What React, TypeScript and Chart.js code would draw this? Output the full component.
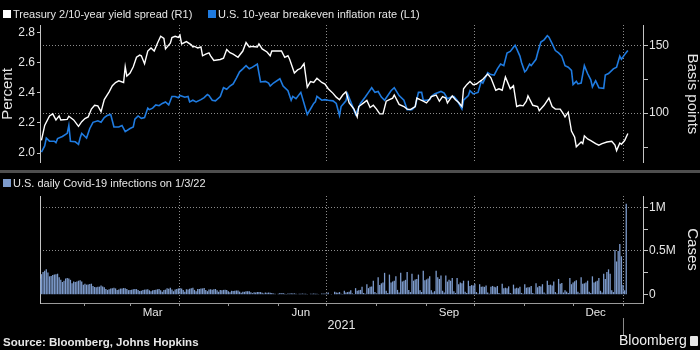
import React, { useEffect, useRef } from 'react';
import { Chart, registerables } from 'chart.js';

Chart.register(...registerables);

const FONT = "'Liberation Sans', Arial, sans-serif";
const TXT = '#e6e6e6';
const AXIS = '#c4c4c4';
const GRID = '#8c8c8c';
const BLUE = '#1f7be0';
const BAR = '#7d9bcc';

// x values are days since 2021-01-01
const spreadDays = [4,6,9,11,13,15,16,20,21,24,27,29,31,33,35,37,39,41,43,46,48,50,52,55,56,57,59,61,63,65,66,68,70,72,74,76,78,80,81,84,85,87,89,90,91,94,97,98,99,101,103,104,106,108,109,111,115,117,119,121,123,126,129,131,133,135,138,139,141,144,146,147,150,153,155,157,158,161,163,165,167,169,171,173,175,178,180,182,185,187,189,191,193,195,198,200,201,204,206,208,210,212,214,216,218,220,222,223,226,229,231,233,236,237,239,241,243,245,246,249,251,253,255,256,259,261,263,265,266,268,270,272,274,276,278,281,283,286,288,290,292,293,295,297,299,301,303,305,306,309,312,313,316,319,321,323,326,328,329,331,333,335,336,339,340,341,343,345,348,350,352,355,358,360,361,363,364,366,368];
const spreadBp = [80,91,98,99.5,95,98,95,95.4,97.7,95,90.3,93.7,96,97.2,103,105.8,105.4,101.1,110,115.7,120.3,122.6,123.8,122.6,134.2,127.3,129.6,134.2,141.2,142.8,142.3,136.5,145.8,148.1,145.8,151.6,156.7,155.1,147.4,151.6,155.8,156.7,155.8,157.4,151.1,152.8,150.4,148.8,149.2,148.1,148.8,142.3,143.5,144.4,142.3,138.9,139.6,140.5,146.9,144.6,143.5,141.2,145.8,152.1,148.8,149.2,148.8,151.1,147.4,145.1,142.3,145.8,145.8,145.8,141.2,142.3,140,129.6,131.9,133.1,136.5,119.2,123.3,122.6,125.7,122.6,121.5,118,114.6,111.8,109.9,113.4,115.7,107.6,103,97.2,104.9,107.6,109.4,104.2,105.8,103,99.5,99.5,108.8,109.9,111.1,113.4,106.5,104.9,103,102.6,104.9,111.1,109.9,108.8,107.6,110.3,112.2,113.4,108.8,112.2,111.1,107.6,112.7,109.9,107.8,104.9,118,121,123.3,121,121.5,123.3,125,128.9,126.1,116.9,118,116.9,126.6,123.8,118,120.3,104.9,105.8,105.4,108.8,112.7,105.8,104.9,101.8,105.8,111.1,104.9,103,103,99.5,97.2,100.7,86.8,82.2,75.2,78.7,77.5,83.3,81,79.8,77.5,76.4,77.5,78.7,79.3,76.4,72.4,78,77.1,79.8,85];

const breakevenDays = [4,6,7,9,12,13,14,17,20,21,22,25,27,28,29,31,32,34,36,39,41,43,45,47,49,52,54,56,59,61,62,64,66,68,70,71,73,75,77,79,81,83,85,87,89,90,93,95,96,98,100,103,105,107,108,110,112,115,117,119,121,123,125,127,129,131,133,135,138,140,143,145,146,148,152,154,157,159,160,162,165,169,171,173,174,175,178,180,182,185,187,189,190,193,194,197,199,202,205,207,209,211,213,215,217,219,221,223,226,229,231,234,236,238,240,241,243,245,246,248,252,254,256,258,260,262,265,266,269,270,272,275,277,278,281,283,285,287,289,291,293,295,297,298,301,302,304,305,307,308,311,312,314,316,318,319,321,323,325,327,329,331,333,334,336,337,339,341,343,345,346,348,350,353,354,356,359,361,363,364,366,368];
const breakevenPct = [2.006,2.048,2.10,2.079,2.079,2.069,2.096,2.11,2.131,2.183,2.079,2.075,2.058,2.10,2.131,2.11,2.10,2.163,2.204,2.214,2.204,2.236,2.25,2.256,2.173,2.173,2.183,2.142,2.163,2.173,2.225,2.246,2.23,2.236,2.298,2.288,2.298,2.319,2.314,2.329,2.339,2.319,2.375,2.375,2.367,2.381,2.37,2.375,2.339,2.35,2.339,2.354,2.367,2.388,2.381,2.35,2.346,2.375,2.433,2.423,2.444,2.458,2.496,2.538,2.558,2.579,2.558,2.569,2.589,2.471,2.475,2.464,2.444,2.464,2.492,2.444,2.413,2.35,2.375,2.36,2.402,2.256,2.292,2.329,2.339,2.375,2.35,2.354,2.35,2.346,2.329,2.25,2.308,2.346,2.392,2.314,2.256,2.329,2.371,2.402,2.433,2.402,2.408,2.371,2.35,2.381,2.413,2.433,2.381,2.35,2.288,2.288,2.308,2.402,2.402,2.35,2.35,2.354,2.375,2.392,2.408,2.398,2.36,2.37,2.375,2.35,2.292,2.35,2.381,2.413,2.392,2.402,2.475,2.464,2.533,2.52,2.517,2.558,2.589,2.579,2.663,2.673,2.70,2.714,2.642,2.60,2.538,2.548,2.589,2.579,2.621,2.663,2.735,2.75,2.777,2.767,2.725,2.679,2.663,2.642,2.579,2.569,2.548,2.454,2.475,2.458,2.464,2.579,2.527,2.485,2.438,2.479,2.433,2.429,2.517,2.527,2.558,2.569,2.642,2.621,2.652,2.679];

// Daily US Covid-19 cases, thousands, from Mon 2021-01-04 (day 3) to Mon 2022-01-03
const covidStartDay = 3;
const covidDailyK = [
  185,235,260,275,290,255,210, 215,225,230,235,240,200,170, 145,160,185,190,185,170,130, 150,145,150,160,165,150,115,
  125,115,118,122,126,100,88, 85,90,92,105,95,85,65, 55,62,70,75,80,72,55, 60,70,72,76,73,64,52,
  55,57,62,65,64,55,42, 45,55,58,60,62,50,38, 50,55,58,62,66,52,35, 55,58,75,68,80,60,40,
  60,65,72,76,70,55,35, 62,60,68,75,80,55,40, 65,65,70,72,78,55,40, 60,62,58,62,65,50,35,
  55,52,55,58,55,40,28, 45,42,45,48,47,35,22, 35,33,38,38,38,28,18, 28,26,30,30,30,22,15,
  25,22,25,23,20,14,10, 6,10,18,16,18,12,8, 15,12,16,14,15,10,5, 12,10,13,12,12,8,4,
  11,10,14,12,12,8,4, 15,12,15,14,25,5,3, 6,35,25,22,30,12,8, 45,25,30,35,50,15,8,
  75,45,50,55,90,20,10, 120,75,90,95,160,30,15, 200,110,130,140,250,45,20, 230,140,150,160,210,55,25,
  250,150,160,170,260,55,30, 240,160,175,180,230,50,30, 275,165,175,185,210,50,25, 40,275,200,180,220,45,25,
  220,150,170,160,190,40,20, 190,120,140,130,160,35,20, 160,100,110,105,125,30,15, 120,90,95,90,105,25,12,
  90,100,90,85,100,20,10, 125,75,80,75,95,20,10, 115,70,80,75,90,20,10, 120,80,85,85,100,20,10,
  130,85,100,95,120,25,12, 160,110,115,105,150,30,15, 180,125,135,25,50,35,20, 190,120,140,155,165,35,15,
  200,125,130,140,160,35,20, 210,140,150,160,190,45,25, 240,180,260,290,240,50,30, 510,380,500,580,440,110,50,
  1040
];

const X_MIN = 3.1;
const X_MAX = 377.4;
const quarterStarts = [90, 181, 273, 365];
const monthStarts = [31, 59, 90, 120, 151, 181, 212, 243, 273, 304, 334, 365];
const monthLabelDays = [73, 165, 257, 348];
const monthLabels = ['Mar', 'Jun', 'Sep', 'Dec'];
const yearLabel = '2021';
const pctTicks = [2.0, 2.2, 2.4, 2.6, 2.8];
const bpTicks = [75, 100, 125, 150];
const bpLabelTicks = [100, 150];
const caseTicks = [0, 250000, 500000, 750000, 1000000];
const caseTickLabels = ['0', '', '0.5M', '', '1M'];
const caseGridTicks = [500000, 1000000];

const legendTop = ['Treasury 2/10-year yield spread (R1)', 'U.S. 10-year breakeven inflation rate (L1)'];
const legendBottom = 'U.S. daily Covid-19 infections on 1/3/22';

export default function App() {
  const topRef = useRef<HTMLCanvasElement>(null);
  const botRef = useRef<HTMLCanvasElement>(null);

  useEffect(() => {
    document.body.style.margin = '0';
    document.body.style.background = '#000';
    const tickFont = { family: FONT, size: 12 };
    const titleFont = { family: FONT, size: 15, lineHeight: 1 };

    const top = new Chart(topRef.current!, {
      type: 'line',
      data: {
        datasets: [
          {
            label: legendTop[0],
            data: spreadDays.map((d, i) => ({ x: d, y: spreadBp[i] })),
            yAxisID: 'yR',
            borderColor: '#ffffff',
            borderWidth: 1.4,
            pointRadius: 0,
            tension: 0,
          },
          {
            label: legendTop[1],
            data: breakevenDays.map((d, i) => ({ x: d, y: breakevenPct[i] })),
            yAxisID: 'yL',
            borderColor: BLUE,
            borderWidth: 1.6,
            pointRadius: 0,
            tension: 0,
          },
        ],
      },
      options: {
        animation: false,
        responsive: false,
        devicePixelRatio: 1,
        layout: { padding: { top: 25, left: 0, right: 0, bottom: 0 } },
        plugins: { legend: { display: false }, tooltip: { enabled: false } },
        scales: {
          x: {
            type: 'linear',
            min: X_MIN,
            max: X_MAX,
            afterBuildTicks: (s: any) => { s.ticks = quarterStarts.map((v) => ({ value: v })); },
            ticks: { display: false },
            grid: { color: GRID, drawTicks: false, lineWidth: 1 },
            border: { display: false, dash: [1, 2] },
            afterFit: (s: any) => { s.height = 0; },
          },
          yL: {
            type: 'linear',
            position: 'left',
            min: 1.936,
            max: 2.848,
            afterBuildTicks: (s: any) => { s.ticks = pctTicks.map((v) => ({ value: v })); },
            ticks: { color: TXT, font: tickFont, padding: 2, callback: (v: any) => Number(v).toFixed(1) },
            grid: { drawOnChartArea: false, tickLength: 3, tickColor: AXIS },
            border: { color: AXIS, width: 1 },
            title: { display: true, text: 'Percent', color: TXT, font: titleFont, padding: 0 },
            afterFit: (s: any) => { s.width = 40; },
          },
          yR: {
            type: 'linear',
            position: 'right',
            min: 63.4,
            max: 165,
            afterBuildTicks: (s: any) => { s.ticks = bpTicks.map((v) => ({ value: v })); },
            ticks: {
              color: TXT,
              font: tickFont,
              padding: 1,
              callback: (v: any) => (bpLabelTicks.includes(Number(v)) ? String(v) : ''),
            },
            grid: {
              color: (ctx: any) => (ctx.tick && bpLabelTicks.includes(ctx.tick.value) ? GRID : 'rgba(0,0,0,0)'),
              tickColor: AXIS,
              tickLength: 5,
            },
            border: { color: AXIS, width: 1, dash: [1, 2] },
            title: { display: true, text: 'Basis points', color: TXT, font: titleFont, padding: 0 },
            afterFit: (s: any) => { s.width = 57; },
          },
        },
      },
    });

    const yearLine = {
      id: 'yearLine',
      afterDraw(chart: any) {
        const xs = chart.scales.x;
        const px = Math.round(xs.getPixelForValue(365)) + 0.5;
        const ctx = chart.ctx;
        ctx.save();
        ctx.strokeStyle = '#8a8a8a';
        ctx.lineWidth = 1;
        ctx.beginPath();
        ctx.moveTo(px, xs.top + 15);
        ctx.lineTo(px, xs.bottom);
        ctx.stroke();
        ctx.restore();
      },
    };

    const bot = new Chart(botRef.current!, {
      type: 'bar',
      data: {
        datasets: [
          {
            label: legendBottom,
            data: covidDailyK.map((v, i) => ({ x: covidStartDay + i, y: v * 1000 })),
            backgroundColor: BAR,
            barPercentage: 1,
            categoryPercentage: 0.8,
            yAxisID: 'y',
          },
        ],
      },
      options: {
        animation: false,
        responsive: false,
        devicePixelRatio: 1,
        layout: { padding: { top: 20, left: 0, right: 0, bottom: 0 } },
        plugins: { legend: { display: false }, tooltip: { enabled: false } },
        scales: {
          x: {
            type: 'linear',
            min: X_MIN,
            max: X_MAX,
            offset: false,
            afterBuildTicks: (s: any) => {
              s.ticks = [...monthStarts, ...monthLabelDays].sort((a, b) => a - b).map((v) => ({ value: v }));
            },
            ticks: {
              autoSkip: false,
              maxRotation: 0,
              color: TXT,
              font: { family: FONT, size: 11.5 },
              padding: 0,
              callback: (v: any) => {
                const i = monthLabelDays.indexOf(Number(v));
                return i >= 0 ? monthLabels[i] : '';
              },
            },
            grid: {
              offset: false,
              color: (ctx: any) => (ctx.tick && quarterStarts.includes(ctx.tick.value) ? GRID : 'rgba(0,0,0,0)'),
              tickColor: (ctx: any) => (ctx.tick && monthStarts.includes(ctx.tick.value) ? '#9a9a9a' : 'rgba(0,0,0,0)'),
              tickLength: 3,
            },
            border: { color: '#9a9a9a', width: 1, dash: [1, 2] },
            title: { display: true, text: yearLabel, color: TXT, font: { family: FONT, size: 12.5, lineHeight: 1 }, padding: { top: 0, bottom: 4 } },
            afterFit: (s: any) => { s.height = 33; },
          },
          yL: {
            type: 'linear',
            position: 'left',
            min: 0,
            max: 1,
            ticks: { display: false },
            grid: { drawOnChartArea: false, drawTicks: false },
            border: { color: AXIS, width: 1 },
            afterFit: (s: any) => { s.width = 40; },
          },
          y: {
            type: 'linear',
            position: 'right',
            min: -95000,
            max: 1129000,
            afterBuildTicks: (s: any) => { s.ticks = caseTicks.map((v) => ({ value: v })); },
            ticks: {
              color: TXT,
              font: tickFont,
              padding: 1,
              callback: (v: any) => caseTickLabels[caseTicks.indexOf(Number(v))] ?? '',
            },
            grid: {
              color: (ctx: any) => (ctx.tick && caseGridTicks.includes(ctx.tick.value) ? GRID : 'rgba(0,0,0,0)'),
              tickColor: AXIS,
              tickLength: 5,
            },
            border: { color: AXIS, width: 1, dash: [1, 2] },
            title: { display: true, text: 'Cases', color: TXT, font: titleFont, padding: 0 },
            afterFit: (s: any) => { s.width = 57; },
          },
        },
      },
      plugins: [yearLine],
    });

    return () => {
      top.destroy();
      bot.destroy();
    };
  }, []);

  const legendText: React.CSSProperties = {
    position: 'absolute',
    fontFamily: FONT,
    fontSize: 11,
    lineHeight: '14px',
    color: TXT,
    whiteSpace: 'nowrap',
  };
  const box = (c: string): React.CSSProperties => ({
    display: 'inline-block',
    width: 8,
    height: 8,
    background: c,
    marginRight: 2,
    verticalAlign: '-0px',
  });

  return (
    <div style={{ position: 'fixed', left: 0, top: 0, width: 700, height: 350, background: '#000', overflow: 'hidden' }}>
      <canvas ref={topRef} width={700} height={172} style={{ position: 'absolute', left: 0, top: 0, width: 700, height: 172 }} />
      <canvas ref={botRef} width={700} height={160} style={{ position: 'absolute', left: 0, top: 176, width: 700, height: 160 }} />
      <div style={{ position: 'absolute', left: 0, top: 170, width: 700, height: 3, background: '#4e4e4e' }} />
      <div style={{ ...legendText, left: 3, top: 7 }}>
        <span style={box('#ffffff')} />{legendTop[0]}
      </div>
      <div style={{ ...legendText, left: 208, top: 7 }}>
        <span style={box(BLUE)} />{legendTop[1]}
      </div>
      <div style={{ ...legendText, left: 3, top: 176 }}>
        <span style={box(BAR)} />{legendBottom}
      </div>
      <div style={{ position: 'absolute', left: 3, top: 335, fontFamily: FONT, fontSize: 11.5, fontWeight: 'bold', color: TXT, lineHeight: '14px', whiteSpace: 'nowrap' }}>
        Source: Bloomberg, Johns Hopkins
      </div>
      <div style={{ position: 'absolute', left: 619, top: 332, fontFamily: FONT, fontSize: 14, color: '#f0f0f0', lineHeight: '16px', whiteSpace: 'nowrap' }}>
        Bloomberg
        <span style={{ display: 'inline-block', width: 8, height: 10, marginLeft: 3, background: '#e6e6e6', borderRadius: 1, verticalAlign: '-1px' }} />
      </div>
    </div>
  );
}
